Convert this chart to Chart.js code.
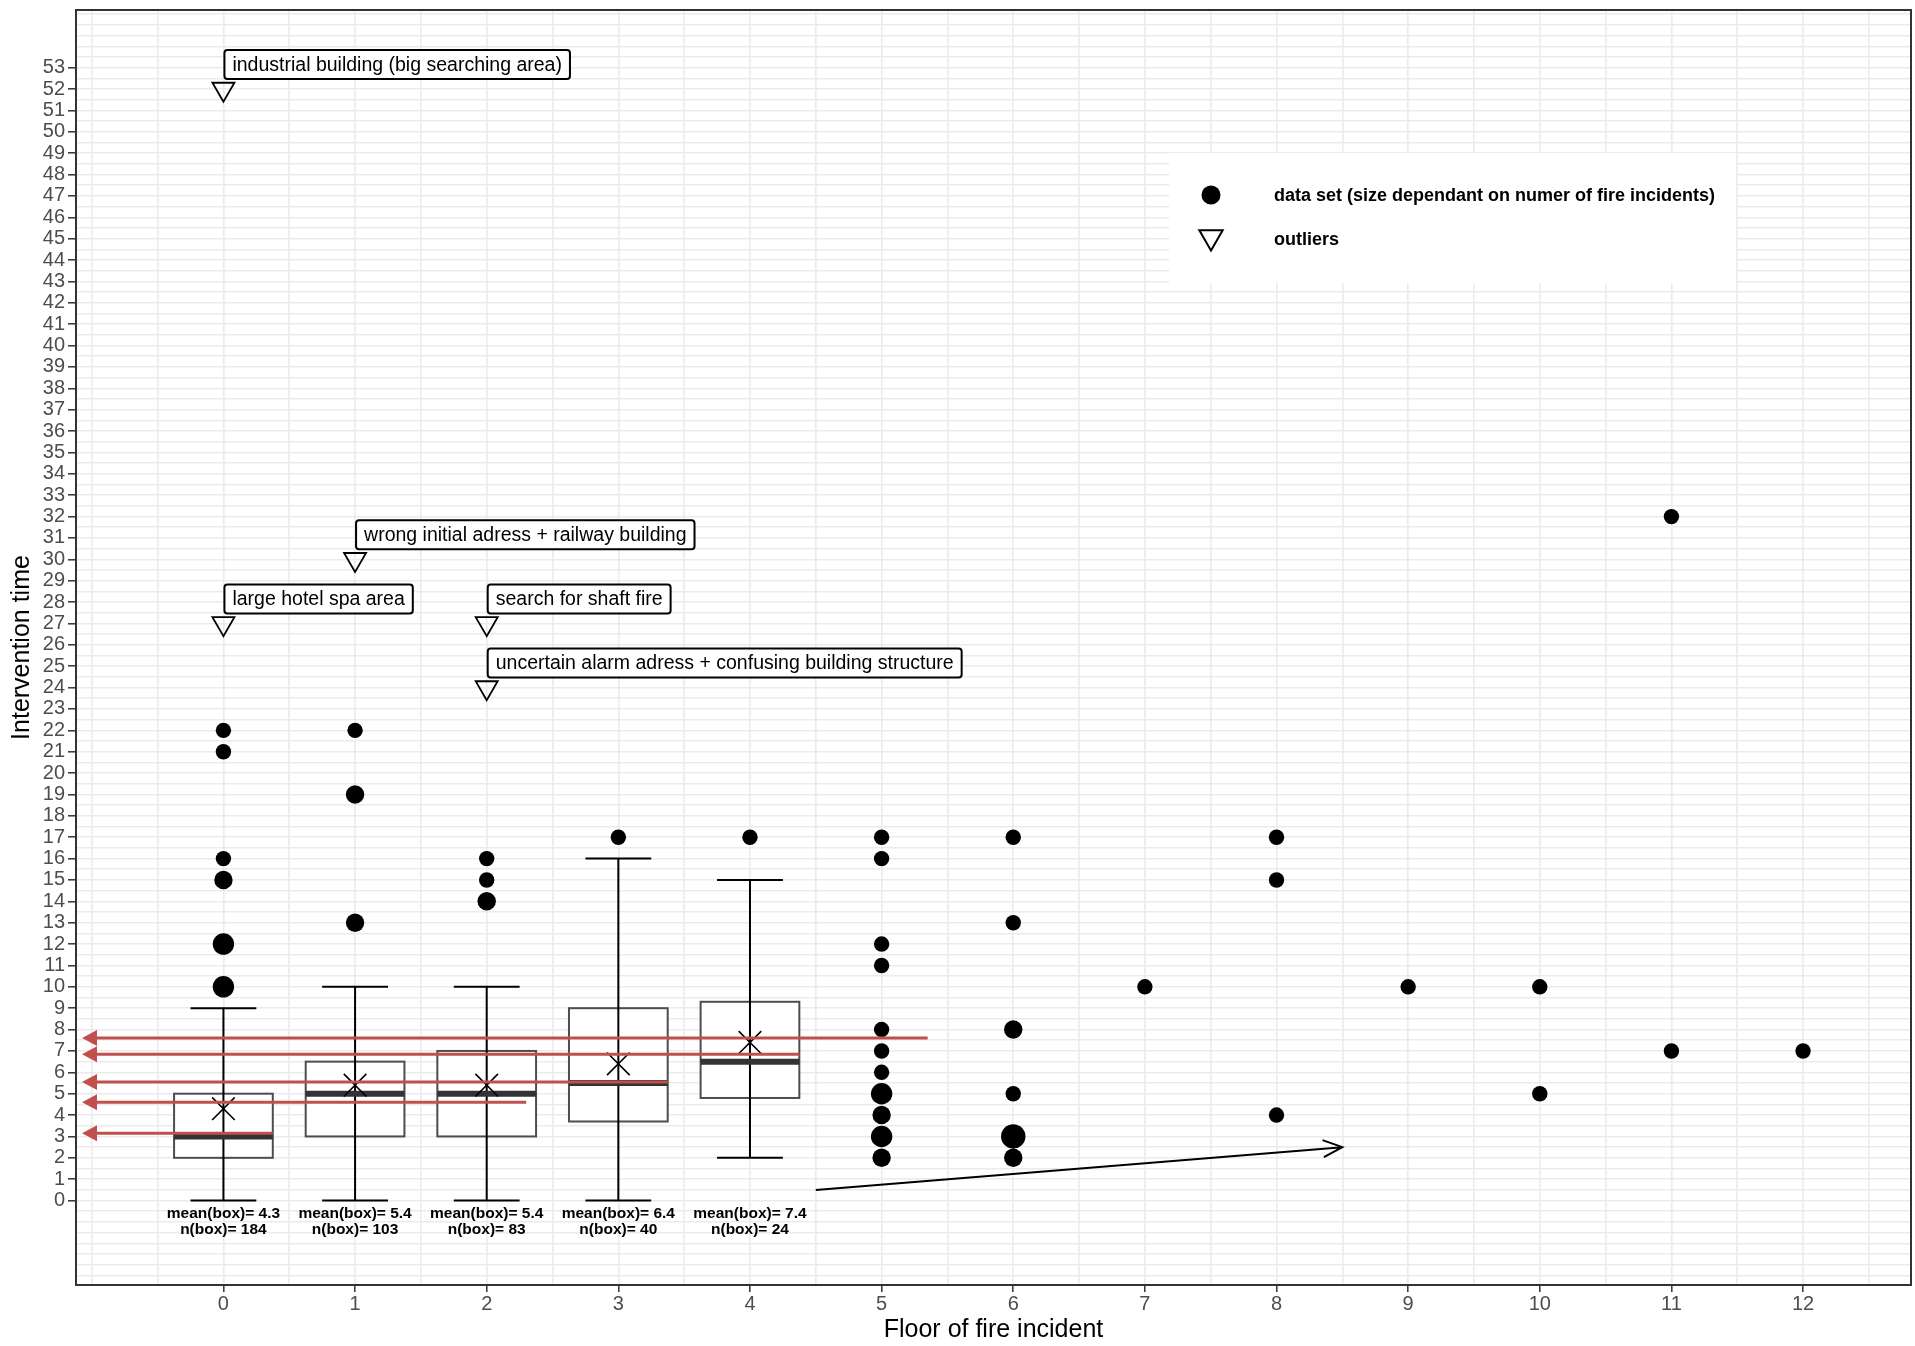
<!DOCTYPE html>
<html>
<head>
<meta charset="utf-8">
<title>Intervention time by floor</title>
<script src="https://cdn.jsdelivr.net/npm/chart.js@4.4.1/dist/chart.umd.min.js"></script>
<style>
  html, body { margin: 0; padding: 0; background: #fff; overflow: hidden; }
  #wrap { width: 1915px; height: 1346px; }
  #chart { display: block; }
</style>
</head>
<body>
<div id="wrap"><canvas id="chart"></canvas></div>
<script>
// Box plot per floor (floors 0-4)
const boxFloor = [0, 1, 2, 3, 4];
const boxQ1 = [2, 3, 3, 3.7, 4.8];
const boxMedian = [3, 5, 5, 5.5, 6.5];
const boxQ3 = [5, 6.5, 7, 9, 9.3];
const whiskerLow = [0, 0, 0, 0, 2];
const whiskerHigh = [9, 10, 10, 16, 15];
const boxMean = [4.3, 5.4, 5.4, 6.4, 7.4];
const boxN = [184, 103, 83, 40, 24];

// Single incidents (size = number of incidents at that point)
const pointFloor = [0, 0, 0, 0, 0, 0, 1, 1, 1, 2, 2, 2, 3, 4,
  5, 5, 5, 5, 5, 5, 5, 5, 5, 5, 5, 6, 6, 6, 6, 6, 6, 7, 8, 8, 8, 9, 10, 10, 11, 11, 12];
const pointTime = [22, 21, 16, 15, 12, 10, 22, 19, 13, 16, 15, 14, 17, 17,
  17, 16, 12, 11, 8, 7, 6, 5, 4, 3, 2, 17, 13, 8, 5, 3, 2, 10, 17, 15, 4, 10, 10, 5, 32, 7, 7];
const pointCount = [1, 1, 1, 2, 3, 3, 1, 2, 2, 1, 1, 2, 1, 1,
  1, 1, 1, 1, 1, 1, 1, 3, 2, 3, 2, 1, 1, 2, 1, 4, 2, 1, 1, 1, 1, 1, 1, 1, 1, 1, 1];

// Outliers with their notes
const outlierFloor = [0, 1, 0, 2, 2];
const outlierTime = [52, 30, 27, 27, 24];
const outlierNote = [
  "industrial building (big searching area)",
  "wrong initial adress + railway building",
  "large hotel spa area",
  "search for shaft fire",
  "uncertain alarm adress + confusing building structure",
];

// Red reference arrows (level, floor where the line ends)
const refLevel = [7.6, 6.85, 5.55, 4.6, 3.15];
const refEnd = [5.35, 4.375, 3.375, 2.3, 0.375];

// Black trend arrow
const trendFloor = [4.5, 8.5];
const trendTime = [0.5, 2.5];

const floorLabels = [0, 1, 2, 3, 4, 5, 6, 7, 8, 9, 10, 11, 12];
const timeLabelMax = 53;

const FONT = '"Liberation Sans", Arial, sans-serif';

function halfSteps(from, to) {
  const out = [];
  for (let v = from; v <= to + 1e-9; v += 0.5) out.push({ value: Math.round(v * 2) / 2 });
  return out;
}
const isXLabel = (v) => floorLabels.includes(v);
const isYLabel = (v) => Number.isInteger(v) && v >= 0 && v <= timeLabelMax;
const pointSize = (n) => 6.2 + 1.5 * n;

// no extra label overflow padding, the panel keeps its place
function noScalePadding(s) {
  s.paddingLeft = 0;
  s.paddingRight = 0;
  s.paddingTop = 0;
  s.paddingBottom = 0;
}

// Boxes, whiskers and medians
const boxPlugin = {
  id: "boxes",
  beforeDatasetsDraw(chart) {
    const { ctx, scales: { x, y } } = chart;
    ctx.save();
    boxFloor.forEach((f, i) => {
      const cx = x.getPixelForValue(f);
      const left = x.getPixelForValue(f - 0.375);
      const right = x.getPixelForValue(f + 0.375);
      const capL = x.getPixelForValue(f - 0.25);
      const capR = x.getPixelForValue(f + 0.25);
      const top = y.getPixelForValue(boxQ3[i]);
      const bottom = y.getPixelForValue(boxQ1[i]);
      const lo = y.getPixelForValue(whiskerLow[i]);
      const hi = y.getPixelForValue(whiskerHigh[i]);
      const med = y.getPixelForValue(boxMedian[i]);

      ctx.fillStyle = "#fff";
      ctx.fillRect(left, top, right - left, bottom - top);
      ctx.strokeStyle = "#4d4d4d";
      ctx.lineWidth = 2;
      ctx.strokeRect(left, top, right - left, bottom - top);

      ctx.strokeStyle = "#000";
      ctx.lineWidth = 2;
      ctx.beginPath();
      ctx.moveTo(cx, lo);
      ctx.lineTo(cx, hi);
      ctx.moveTo(capL, lo);
      ctx.lineTo(capR, lo);
      ctx.moveTo(capL, hi);
      ctx.lineTo(capR, hi);
      ctx.stroke();

      ctx.strokeStyle = "#333";
      ctx.lineWidth = 6;
      ctx.beginPath();
      ctx.moveTo(left, med);
      ctx.lineTo(right, med);
      ctx.stroke();
    });
    ctx.restore();
  },
};

// Arrows, notes, box captions, legend and panel border
const extrasPlugin = {
  id: "extras",
  afterDatasetsDraw(chart) {
    const { ctx, chartArea: area, scales: { x, y } } = chart;
    ctx.save();

    // red arrows pointing to the y axis
    ctx.strokeStyle = "#c0504d";
    ctx.fillStyle = "#c0504d";
    ctx.lineWidth = 3;
    refLevel.forEach((lvl, i) => {
      const py = y.getPixelForValue(lvl);
      const tip = area.left + 6;
      ctx.beginPath();
      ctx.moveTo(tip + 12, py);
      ctx.lineTo(x.getPixelForValue(refEnd[i]), py);
      ctx.stroke();
      ctx.beginPath();
      ctx.moveTo(tip, py);
      ctx.lineTo(tip + 15, py - 8);
      ctx.lineTo(tip + 15, py + 8);
      ctx.closePath();
      ctx.fill();
    });

    // black trend arrow
    const x0 = x.getPixelForValue(trendFloor[0]);
    const y0 = y.getPixelForValue(trendTime[0]);
    const x1 = x.getPixelForValue(trendFloor[1]);
    const y1 = y.getPixelForValue(trendTime[1]);
    const ang = Math.atan2(y1 - y0, x1 - x0);
    ctx.strokeStyle = "#000";
    ctx.lineWidth = 2;
    ctx.beginPath();
    ctx.moveTo(x0, y0);
    ctx.lineTo(x1, y1);
    ctx.moveTo(x1 - 21 * Math.cos(ang - 0.42), y1 - 21 * Math.sin(ang - 0.42));
    ctx.lineTo(x1, y1);
    ctx.lineTo(x1 - 21 * Math.cos(ang + 0.42), y1 - 21 * Math.sin(ang + 0.42));
    ctx.stroke();

    // outlier notes
    ctx.font = "19.5px " + FONT;
    ctx.textBaseline = "middle";
    ctx.textAlign = "left";
    outlierNote.forEach((txt, i) => {
      const px = x.getPixelForValue(outlierFloor[i]);
      const py = y.getPixelForValue(outlierTime[i]);
      const w = ctx.measureText(txt).width + 16;
      const h = 29;
      const left = px + 1;
      const top = py - 10 - h;
      ctx.beginPath();
      ctx.roundRect(left, top, w, h, 3);
      ctx.fillStyle = "#fff";
      ctx.fill();
      ctx.lineWidth = 2;
      ctx.strokeStyle = "#000";
      ctx.stroke();
      ctx.fillStyle = "#000";
      ctx.fillText(txt, left + 8, top + h / 2 + 1);
    });

    // mean / n under each box
    ctx.font = "bold 15.5px " + FONT;
    ctx.textAlign = "center";
    ctx.fillStyle = "#000";
    const zero = y.getPixelForValue(0);
    boxFloor.forEach((f, i) => {
      const cx = x.getPixelForValue(f);
      ctx.fillText("mean(box)= " + boxMean[i].toFixed(1), cx, zero + 13);
      ctx.fillText("n(box)= " + boxN[i], cx, zero + 29);
    });

    // legend
    const lg = { left: 1169, top: 153, width: 567, height: 130 };
    ctx.fillStyle = "#fff";
    ctx.fillRect(lg.left, lg.top, lg.width, lg.height);
    ctx.fillStyle = "#000";
    ctx.strokeStyle = "#000";
    Chart.helpers.drawPoint(ctx, { pointStyle: "circle", radius: 9.5, borderWidth: 0 }, lg.left + 42, lg.top + 42);
    ctx.fillStyle = "#fff";
    ctx.lineWidth = 2;
    Chart.helpers.drawPoint(ctx, { pointStyle: "triangle", rotation: 180, radius: 13.5, borderWidth: 2 }, lg.left + 42, lg.top + 84);
    ctx.fillStyle = "#000";
    ctx.font = "bold 18px " + FONT;
    ctx.textAlign = "left";
    ctx.fillText("data set (size dependant on numer of fire incidents)", lg.left + 105, lg.top + 43);
    ctx.fillText("outliers", lg.left + 105, lg.top + 87);

    ctx.restore();
  },
  afterDraw(chart) {
    const { ctx, chartArea: a } = chart;
    ctx.save();
    ctx.strokeStyle = "#333";
    ctx.lineWidth = 2;
    ctx.strokeRect(a.left, a.top, a.right - a.left, a.bottom - a.top);
    ctx.restore();
  },
};

const ctx = document.getElementById("chart").getContext("2d");
new Chart(ctx, {
  type: "scatter",
  data: {
    datasets: [
      {
        label: "data set (size dependant on numer of fire incidents)",
        data: pointFloor.map((f, i) => ({ x: f, y: pointTime[i] })),
        pointRadius: pointCount.map(pointSize),
        backgroundColor: "#000",
        borderWidth: 0,
      },
      {
        label: "mean",
        data: boxFloor.map((f, i) => ({ x: f, y: boxMean[i] })),
        pointStyle: "crossRot",
        pointRadius: 16,
        borderColor: "#000",
        borderWidth: 1.6,
      },
      {
        label: "outliers",
        data: outlierFloor.map((f, i) => ({ x: f, y: outlierTime[i] })),
        pointStyle: "triangle",
        rotation: 180,
        pointRadius: 12.7,
        backgroundColor: "rgba(0,0,0,0)",
        borderColor: "#000",
        borderWidth: 1.8,
      },
    ],
  },
  options: {
    responsive: true,
    maintainAspectRatio: false,
    animation: false,
    events: [],
    layout: { autoPadding: false, padding: { top: 10, right: 4, left: 0, bottom: 0 } },
    plugins: {
      legend: { display: false },
      tooltip: { enabled: false },
    },
    scales: {
      x: {
        type: "linear",
        min: -1.12,
        max: 12.82,
        afterBuildTicks: (s) => { s.ticks = halfSteps(-1, 12.5); },
        afterFit: (s) => { s.height = 61; noScalePadding(s); },
        border: { display: false },
        grid: {
          color: "#ebebeb",
          lineWidth: 1.6,
          tickLength: 7,
          tickWidth: 1.5,
          tickColor: (c) => (c.tick && isXLabel(c.tick.value) ? "#333" : "rgba(0,0,0,0)"),
        },
        ticks: {
          autoSkip: false,
          maxRotation: 0,
          padding: 0,
          color: "#4d4d4d",
          font: { family: FONT, size: 20 },
          callback: (v) => (isXLabel(v) ? v : ""),
        },
        title: {
          display: true,
          text: "Floor of fire incident",
          color: "#000",
          font: { family: FONT, size: 25 },
          padding: { top: 0, bottom: 1 },
        },
      },
      y: {
        type: "linear",
        min: -3.95,
        max: 55.7,
        afterBuildTicks: (s) => { s.ticks = halfSteps(-3.5, 55.5); },
        afterFit: (s) => { s.width = 76; noScalePadding(s); },
        border: { display: false },
        grid: {
          color: "#ebebeb",
          lineWidth: 1.6,
          tickLength: 8,
          tickWidth: 1.5,
          tickColor: (c) => (c.tick && isYLabel(c.tick.value) ? "#333" : "rgba(0,0,0,0)"),
        },
        ticks: {
          autoSkip: false,
          padding: 3,
          color: "#4d4d4d",
          font: { family: FONT, size: 20 },
          callback: (v) => (isYLabel(v) ? v : ""),
        },
        title: {
          display: true,
          text: "Intervention time",
          color: "#000",
          font: { family: FONT, size: 25 },
          padding: { top: 7, bottom: 0 },
        },
      },
    },
  },
  plugins: [boxPlugin, extrasPlugin],
});
</script>
</body>
</html>
